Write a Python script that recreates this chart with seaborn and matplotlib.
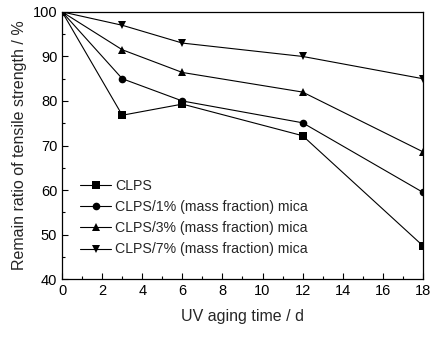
import matplotlib
matplotlib.use("Agg")
import matplotlib.pyplot as plt
import seaborn as sns
import pandas as pd
from matplotlib.ticker import MultipleLocator

days = [0, 3, 6, 12, 18]
clps = [100, 76.8, 79.3, 72.2, 47.5]
mica1 = [100, 85.0, 80.0, 75.1, 59.5]
mica3 = [100, 91.5, 86.4, 82.0, 68.6]
mica7 = [100, 97.0, 93.0, 90.0, 85.0]
labels = ["CLPS", "CLPS/1% (mass fraction) mica",
          "CLPS/3% (mass fraction) mica", "CLPS/7% (mass fraction) mica"]

rows = []
for lab, vals in zip(labels, [clps, mica1, mica3, mica7]):
    for d, v in zip(days, vals):
        rows.append({"day": d, "value": v, "series": lab})
df = pd.DataFrame(rows)

sns.set_style("ticks")
plt.rcParams['font.family'] = ['Liberation Sans', 'DejaVu Sans']

fig = plt.figure(figsize=(4.47, 3.40), dpi=100)
ax = fig.add_axes([0.139, 0.179, 0.807, 0.786])

markers = {labels[0]: "s", labels[1]: "o", labels[2]: "^", labels[3]: "v"}
sns.lineplot(data=df, x="day", y="value", hue="series", style="series",
             markers=markers, dashes=False, palette=["black"] * 4,
             linewidth=0.8, markersize=5.5, markeredgewidth=0, ax=ax,
             hue_order=labels, style_order=labels)

ax.set_xlim(0, 18)
ax.set_ylim(40, 100)
ax.xaxis.set_major_locator(MultipleLocator(2))
ax.xaxis.set_minor_locator(MultipleLocator(1))
ax.yaxis.set_major_locator(MultipleLocator(10))
ax.yaxis.set_minor_locator(MultipleLocator(5))
ax.tick_params(which="both", direction="in", top=False, right=False,
               labelsize=10.5, colors="black")
ax.tick_params(which="major", length=4, width=0.8)
ax.tick_params(which="minor", length=2.5, width=0.8)
for s in ax.spines.values():
    s.set_visible(True)
    s.set_linewidth(0.9)
    s.set_color("black")

ax.set_xlabel("UV aging time / d", fontsize=11.5, labelpad=8)
ax.set_ylabel("Remain ratio of tensile strength / %", fontsize=11.5, labelpad=4)

leg = ax.legend(loc="upper left", bbox_to_anchor=(0.035, 0.395), frameon=False,
                fontsize=10.2, handlelength=2.15, handletextpad=0.3,
                labelspacing=0.5, borderaxespad=0)

fig.savefig("out.png", dpi=100)
